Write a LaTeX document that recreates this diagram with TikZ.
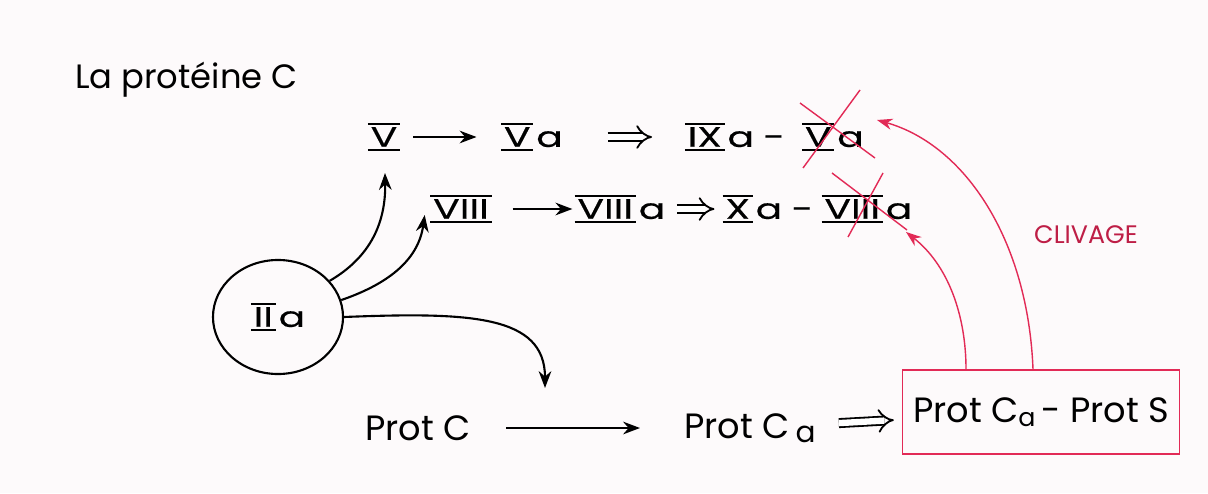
\documentclass[tikz,border=0pt]{standalone}
\usepackage{fontspec}
\setmainfont{Poppins}
\newfontfamily\hw{Poppins}[FakeStretch=1.4,FakeBold=0.4]
\usetikzlibrary{arrows.meta,calc,shapes.geometric}
\definecolor{crim}{RGB}{226,42,86}
\definecolor{crimdark}{RGB}{190,30,70}
\definecolor{paper}{RGB}{253,250,251}
\newcommand{\rnum}[1]{\raisebox{-2.9pt}{\vbox{\hrule height 1.7pt\kern 1.2pt\hbox{\kern2pt #1\kern2pt}\kern 1.3pt\hrule height 1.7pt}}\kern2pt}
\begin{document}
\begin{tikzpicture}[x=0.025cm,y=-0.025cm,
  lbl/.style={inner sep=0pt, font=\hw\fontsize{20}{24}\selectfont},
  lblb/.style={inner sep=0pt, font=\fontsize{25}{30}\selectfont},
  arr/.style={-{Stealth[length=12pt,width=9pt]}, line width=1.5pt},
  dbl/.style={double, double distance=4.5pt, line width=1.3pt, -{Implies}},
  redarr/.style={crim, line width=1pt, -{Stealth[length=11pt,width=8pt]}},
  cross/.style={crim, line width=1pt}]
\fill[paper] (0,0) rectangle (1208,493);
\useasboundingbox (0,0) rectangle (1208,493);
% title
\node[inner sep=2pt, font=\fontsize{24}{28}\selectfont, anchor=west] (title) at (72,80) {La protéine C};
% row 1
\node[lbl, minimum width=0.95cm] (v) at (384,137) {\rnum{V}\kern-2pt};
\node[lbl, minimum width=1.8cm] (va) at (532,137) {\rnum{V}a};
\node[lbl, minimum width=2.675cm] (ixa) at (735,137) {\rnum{IX}a\,\,-};
\node[lbl, minimum width=1.825cm] (vx) at (833,137) {\rnum{V}a};
% row 2
\node[lbl, minimum width=1.7cm] (viii) at (461,209) {\rnum{VIII}\kern-2pt};
\node[lbl, minimum width=2.225cm] (viiia) at (620,209) {\rnum{VIII}a};
\node[lbl, minimum width=1.95cm] (xa) at (768,209) {\rnum{X}a\,\,-};
\node[lbl, minimum width=2.225cm] (viiix) at (867,209) {\rnum{VIII}a};
% circle
\node[lbl, draw, ellipse, line width=1.5pt, minimum width=3.25cm, minimum height=2.85cm] (iia) at (278,317) {\rnum{II}a};
% row 3
\node[lblb, minimum width=2.625cm] (protc) at (418,428) {Prot C};
\node[lblb, minimum width=3.525cm] (protca) at (750,428) {Prot C\,\raisebox{-3pt}{\fontsize{21}{24}\selectfont a}};
\node[lblb, draw=crim, line width=1pt, minimum width=6.925cm, minimum height=2.1cm] (box) at (1041,412) {Prot C\raisebox{-3pt}{\fontsize{18}{20}\selectfont a}\,- Prot S};
\node[crimdark, font=\fontsize{18}{20}\selectfont] (cliv) at (1086,235) {CLIVAGE};
% arrows
\draw[arr, shorten <=0.25cm, shorten >=0.48cm] (v) -- (va);
\draw[dbl, shorten <=0.98cm, shorten >=0.73cm] (va) -- (ixa);
\draw[arr, shorten <=0.43cm, shorten >=0.05cm] (viii) -- (viiia);
\draw[dbl, shorten <=0.28cm, shorten >=0.2cm] (viiia) -- (xa);
\draw[arr, shorten <=0.88cm, shorten >=0.98cm] (protc) -- (protca);
\draw[dbl, shorten <=0.45cm, shorten >=0.2cm] (protca) -- (box);
% from IIa
\coordinate (hit) at (545,388);
\draw[arr] (iia.35) .. controls (362,262) and (386,232) .. ($(v)+(1,36)$);
\draw[arr] (iia.15) .. controls (385,285) and (418,262) .. ($(viii.west)+(-2,6)$);
\draw[arr] (iia.0) .. controls (470,312) and (545,315) .. (hit);
% cleavage
\draw[redarr] ($(box.north)+(-75,0)$) .. controls (966,315) and (948,265) .. ($(viiix)+(39,23)$);
\draw[redarr] ($(box.north)+(-8,0)$) .. controls (1028,240) and (965,145) .. ($(vx)+(44,-17)$);
% crosses
\draw[cross] ($(vx)+(-33,-34)$) -- ($(vx)+(42,21)$);
\draw[cross] ($(vx)+(27,-47)$) -- ($(vx)+(-30,31)$);
\draw[cross] ($(viiix)+(-35,-36)$) -- ($(viiix)+(40,21)$);
\draw[cross] ($(viiix)+(16,-36)$) -- ($(viiix)+(-19,28)$);
\end{tikzpicture}
\end{document}
